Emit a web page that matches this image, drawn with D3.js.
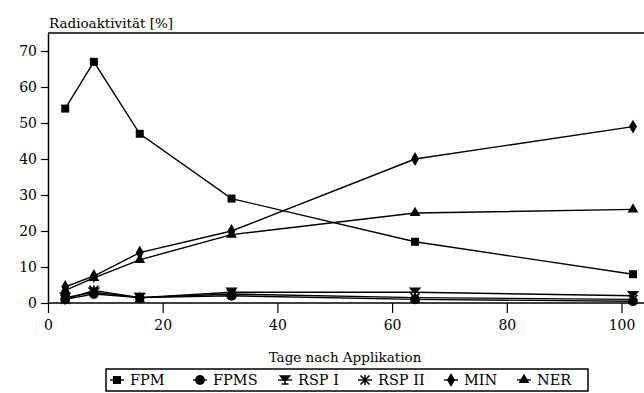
<!DOCTYPE html>
<html>
<head>
<meta charset="utf-8">
<script src="https://cdn.jsdelivr.net/npm/d3@7"></script>
<style>
body { margin: 0; background: #fff; }
</style>
</head>
<body>
<div id="chart"></div>
<script>
// Data
const days = [3, 8, 16, 32, 64, 102];
const fpm = [54, 67, 47, 29, 17, 8];
const fpms = [1, 2.5, 1.5, 2, 1, 0.5];
const rsp1 = [1.5, 3, 1.5, 3, 3, 2];
const rsp2 = [1, 3.5, 1.5, 2.5, 1.5, 1];
const minr = [4.5, 7.5, 14, 20, 40, 49];
const ner = [3.5, 7, 12, 19, 25, 26];
const xTicks = [0, 20, 40, 60, 80, 100];
const yTicks = [0, 10, 20, 30, 40, 50, 60, 70];

const width = 644, height = 393;
const margin = { left: 48, right: 0, top: 33, bottom: 90 };
const font = "DejaVu Serif";

const svg = d3.select("#chart").append("svg")
	.attr("width", width).attr("height", height);

const x = d3.scaleLinear().domain([0, 100]).range([margin.left, 621.5]);
const y = d3.scaleLinear().domain([0, 75]).range([303, margin.top]);

// top border of the plot
svg.append("line")
	.attr("x1", margin.left).attr("x2", width).attr("y1", y(75)).attr("y2", y(75))
	.attr("stroke", "#000").attr("stroke-width", 1.5);

const xAxis = svg.append("g").attr("transform", `translate(0,${y(0)})`)
	.call(d3.axisBottom(x).tickValues(xTicks).tickSize(10).tickSizeOuter(0).tickPadding(7));
xAxis.select(".domain").attr("d", `M${margin.left},0H${width}`);
const yAxis = svg.append("g").attr("transform", `translate(${margin.left},0)`)
	.call(d3.axisLeft(y).tickValues(yTicks).tickSize(7).tickSizeOuter(0).tickPadding(4));
[xAxis, yAxis].forEach(a => {
	a.attr("font-family", font).attr("font-size", 14);
	a.selectAll("path").attr("stroke-width", 1.5);
	a.selectAll("line").attr("stroke-width", 1.2);
});

svg.append("text").attr("x", 49).attr("y", 28)
	.attr("font-family", font).attr("font-size", 13.5)
	.text("Radioaktivität [%]");
svg.append("text").attr("x", 345).attr("y", 362).attr("text-anchor", "middle")
	.attr("font-family", font).attr("font-size", 13.5)
	.text("Tage nach Applikation");

// marker shapes
const sym = {
	square: d3.symbol().type(d3.symbolSquare).size(64),
	circle: d3.symbol().type(d3.symbolCircle).size(75),
	diamond: d3.symbol().type(d3.symbolDiamond).size(55),
	triangle: d3.symbol().type(d3.symbolTriangle).size(50)
};
function marker(g, type, cx, cy) {
	if (type === "star") {
		g.append("path")
			.attr("d", "M-4.5,-4.5L4.5,4.5M-4.5,4.5L4.5,-4.5M0,-5V5")
			.attr("transform", `translate(${cx},${cy})`)
			.attr("stroke", "#000").attr("stroke-width", 1.6);
	} else if (type === "rsp1") {
		g.append("path")
			.attr("d", "M-4.5,-4H4.5L0,1ZM0,-4V4M-3.5,4H3.5")
			.attr("transform", `translate(${cx},${cy})`)
			.attr("fill", "#000").attr("stroke", "#000").attr("stroke-width", 1.6);
	} else {
		g.append("path").attr("d", sym[type]())
			.attr("transform", `translate(${cx},${cy})`).attr("fill", "#000");
	}
}

const series = [
	{ name: "FPM", values: fpm, m: "square" },
	{ name: "FPMS", values: fpms, m: "circle" },
	{ name: "RSP I", values: rsp1, m: "rsp1" },
	{ name: "RSP II", values: rsp2, m: "star" },
	{ name: "MIN", values: minr, m: "diamond" },
	{ name: "NER", values: ner, m: "triangle" }
];

const line = d3.line().x((d, i) => x(days[i])).y(d => y(d));
series.forEach(s => {
	const g = svg.append("g");
	g.append("path").attr("d", line(s.values))
		.attr("fill", "none").attr("stroke", "#000").attr("stroke-width", 1.4);
	s.values.forEach((v, i) => marker(g, s.m, x(days[i]), y(v)));
});

// legend
const lg = svg.append("g");
lg.append("rect").attr("x", 106).attr("y", 369).attr("width", 482).attr("height", 22)
	.attr("fill", "none").attr("stroke", "#000").attr("stroke-width", 1.5);
const legX = [110, 193, 278, 358, 444, 517];
series.forEach((s, i) => {
	const lx = legX[i], ly = 380;
	lg.append("line").attr("x1", lx).attr("x2", lx + 14).attr("y1", ly).attr("y2", ly)
		.attr("stroke", "#000").attr("stroke-width", 1.4);
	marker(lg, s.m, lx + 7, ly);
	lg.append("text").attr("x", lx + 20).attr("y", ly + 5)
		.attr("font-family", font).attr("font-size", 14.5).text(s.name);
});
</script>
</body>
</html>
